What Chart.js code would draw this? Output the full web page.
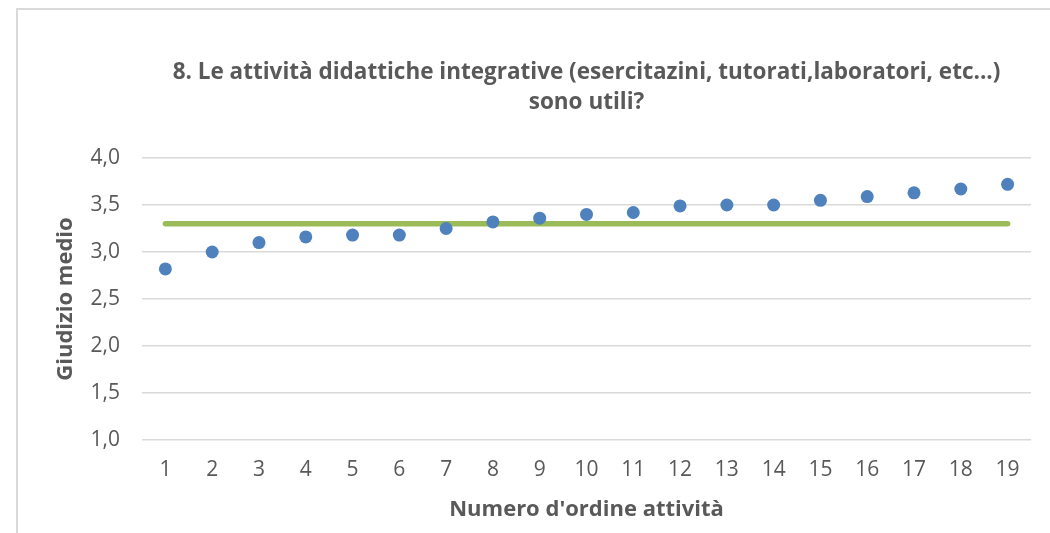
<!DOCTYPE html>
<html>
<head>
<meta charset="utf-8">
<script src="https://cdn.jsdelivr.net/npm/chart.js@4.4.1/dist/chart.umd.min.js"></script>
<style>
  html, body { margin: 0; padding: 0; background: #ffffff; overflow: hidden; }
  #frame { position: absolute; left: 16px; top: 8px; width: 2000px; height: 2000px;
           border-left: 2px solid #d9d9d9; border-top: 2px solid #d9d9d9; }
  #wrap { position: absolute; left: 0; top: 0; width: 1050px; height: 533px; }
</style>
</head>
<body>
<div id="frame"></div>
<div id="wrap"><canvas id="c" width="1050" height="533"></canvas></div>
<script>
const categories = ['1','2','3','4','5','6','7','8','9','10','11','12','13','14','15','16','17','18','19'];
const giudizioMedio = [2.82, 3.00, 3.10, 3.16, 3.18, 3.18, 3.25, 3.32, 3.36, 3.40, 3.42, 3.49, 3.50, 3.50, 3.55, 3.59, 3.63, 3.67, 3.72];
const riferimento = [3.30, 3.30, 3.30, 3.30, 3.30, 3.30, 3.30, 3.30, 3.30, 3.30, 3.30, 3.30, 3.30, 3.30, 3.30, 3.30, 3.30, 3.30, 3.30];
const yTickValues = [1.0, 1.5, 2.0, 2.5, 3.0, 3.5, 4.0];
const titleLines = ["8. Le attività didattiche integrative (esercitazini, tutorati,laboratori, etc...)", "sono utili?"];
const xTitle = "Numero d'ordine attività";
const yTitle = "Giudizio medio";

const TEXT = '#595959';
const FONT = '"Open Sans", Lato, sans-serif';

new Chart(document.getElementById('c'), {
  type: 'line',
  data: {
    labels: categories,
    datasets: [
      {
        label: 'Giudizio medio',
        data: giudizioMedio,
        showLine: false,
        pointRadius: 6.5,
        pointHoverRadius: 6.5,
        pointBackgroundColor: '#4f81bd',
        pointBorderColor: '#4f81bd',
        pointBorderWidth: 0,
        order: 0
      },
      {
        label: 'Riferimento',
        data: riferimento,
        borderColor: '#9bbb59',
        borderWidth: 5.5,
        borderCapStyle: 'round',
        pointRadius: 0,
        fill: false,
        tension: 0,
        order: 1
      }
    ]
  },
  options: {
    responsive: false,
    animation: false,
    events: [],
    layout: { padding: { left: 53, right: 19, top: 0, bottom: 10 } },
    plugins: {
      legend: { display: false },
      tooltip: { enabled: false },
      title: {
        display: true,
        fullSize: false,
        text: titleLines,
        color: TEXT,
        font: { family: FONT, size: 22.5, weight: 'bold', lineHeight: 30 / 22.5 },
        padding: { top: 58, bottom: 40 }
      }
    },
    scales: {
      x: {
        type: 'category',
        offset: true,
        grid: { display: false, drawTicks: false },
        border: { display: false },
        ticks: { color: TEXT, font: { family: FONT, size: 21 }, padding: 17, maxRotation: 0, autoSkip: false },
        title: { display: true, text: xTitle, color: TEXT, font: { family: FONT, size: 22, weight: 'bold', lineHeight: 1.2 }, padding: 0 },
        afterFit: (s) => { s.height = 83; }
      },
      y: {
        min: 1, max: 4,
        afterBuildTicks: (s) => { s.ticks = yTickValues.map(v => ({ value: v })); },
        grid: { color: '#d9d9d9', lineWidth: 1.5, drawTicks: false },
        border: { display: false },
        ticks: { color: TEXT, font: { family: FONT, size: 21 }, padding: 22,
                 callback: (v) => Number(v).toFixed(1).replace('.', ',') },
        title: { display: true, text: yTitle, color: TEXT, font: { family: FONT, size: 22, weight: 'bold', lineHeight: 1.2 }, padding: 0 },
        afterFit: (s) => { s.width = 89; }
      }
    }
  }
});
</script>
</body>
</html>
